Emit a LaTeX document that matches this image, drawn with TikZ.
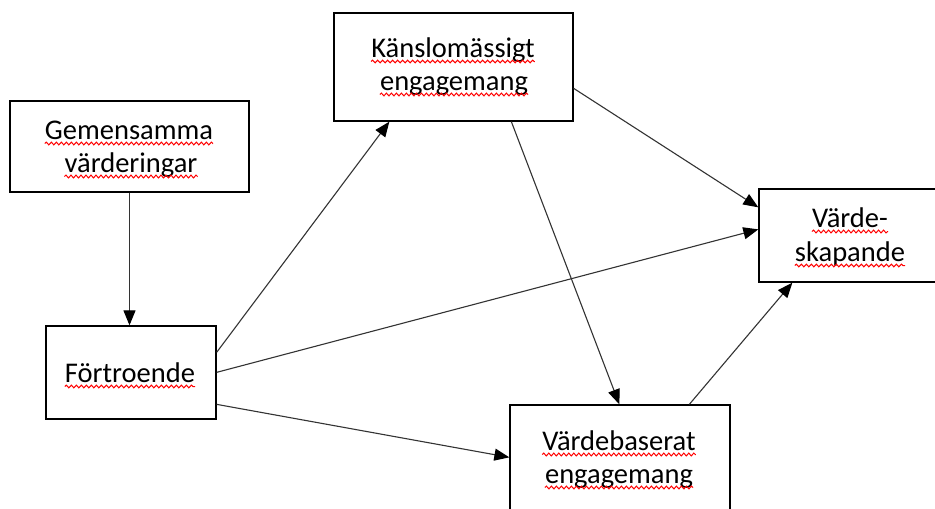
\documentclass[tikz,border=0pt]{standalone}
\usepackage{fontspec}
\setmainfont{Carlito}
\usetikzlibrary{arrows.meta,calc,decorations.pathmorphing}
\tikzset{
  box/.style={draw=black, line width=1.3pt, fill=white, inner sep=0pt},
  lbl/.style={anchor=base, inner sep=0pt, font=\fontsize{28.5}{34}\selectfont},
  conn/.style={draw=black!80, line width=1.1pt, -{Triangle[length=15pt,width=12pt,color=black]}},
  wavy/.style={draw=red, line width=1pt, decorate, decoration={snake, segment length=5pt, amplitude=1.4pt}}
}
\newcommand{\wavyline}[1]{\draw[wavy] ($(#1.base west)+(0,4.5)$) -- ($(#1.base east)+(0,4.5)$);}
\begin{document}
\begin{tikzpicture}[x=1pt,y=-1pt]
\useasboundingbox (0,0) rectangle (935,509);
\clip (0,0) rectangle (935,509);
\fill[white] (0,0) rectangle (935,509);
% boxes
\node[box, minimum width=239pt, minimum height=91pt] (gem) at (129.5,146.5) {};
\node[box, minimum width=239pt, minimum height=108pt] (kan) at (453.5,67) {};
\node[box, minimum width=170pt, minimum height=93pt] (fort) at (131,372.5) {};
\node[box, minimum width=186pt, minimum height=93pt] (vs) at (852,235.5) {};
\node[box, minimum width=220pt, minimum height=115pt] (vb) at (620,462.5) {};
% texts
\node[lbl] (t1) at (129,139) {Gemensamma};
\node[lbl] (t2) at (131,172) {värderingar};
\node[lbl] (t3) at (453,57) {Känslomässigt};
\node[lbl] (t4) at (454,90) {engagemang};
\node[lbl] (t5) at (130,382) {Förtroende};
\node[lbl] (t6) at (850,227) {Värde-};
\node[lbl] (t7) at (850,261) {skapande};
\node[lbl] (t8) at (619,450) {Värdebaserat};
\node[lbl] (t9) at (619,483) {engagemang};
\wavyline{t1}\wavyline{t2}\wavyline{t3}\wavyline{t4}\wavyline{t5}
\wavyline{t6}\wavyline{t7}\wavyline{t8}\wavyline{t9}
% connector points
\coordinate (f1) at ($(fort.north east)+(0,27)$);
\coordinate (f2) at ($(fort.north east)+(0,47)$);
\coordinate (f3) at ($(fort.north east)+(0,79)$);
\coordinate (k1) at ($(kan.south west)+(56,0)$);
\coordinate (k2) at ($(kan.south west)+(178,0)$);
\coordinate (k3) at ($(kan.north east)+(0,76)$);
\coordinate (v1) at ($(vs.north west)+(0,19)$);
\coordinate (v2) at ($(vs.north west)+(0,41)$);
\coordinate (v3) at ($(vs.south west)+(34,0)$);
\coordinate (b1) at ($(vb.north west)+(0,53)$);
\coordinate (b2) at ($(vb.north west)+(110,0)$);
\coordinate (b3) at ($(vb.north west)+(180,0)$);
% connectors
\draw[conn] (gem.south) -- (gem.south |- fort.north);
\draw[conn] (f1) -- (k1);
\draw[conn] (f2) -- (v2);
\draw[conn] (f3) -- (b1);
\draw[conn] (k2) -- (b2);
\draw[conn] (k3) -- (v1);
\draw[conn] (b3) -- (v3);
\end{tikzpicture}
\end{document}
